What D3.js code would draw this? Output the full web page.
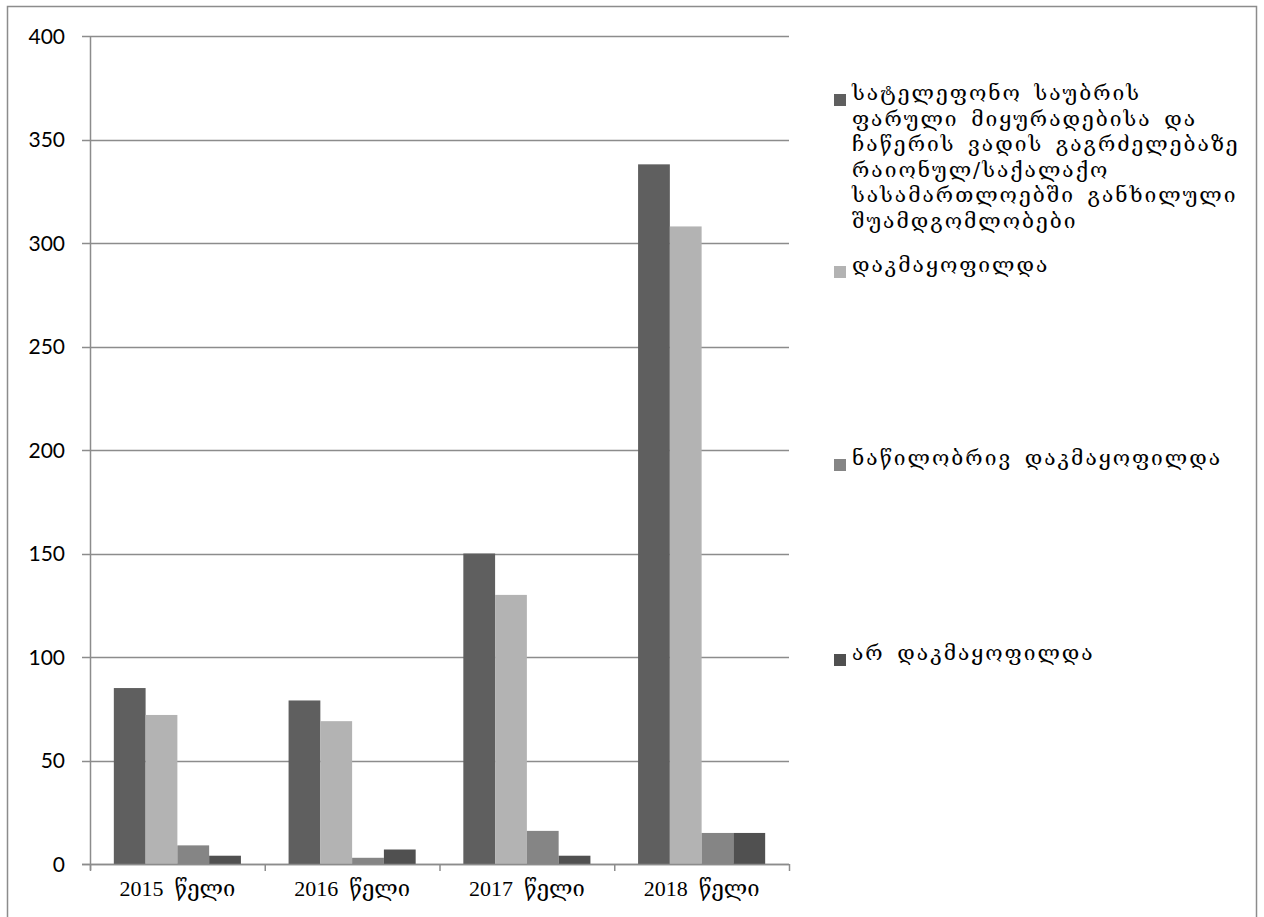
<!DOCTYPE html>
<html>
<head>
<meta charset="utf-8">
<script src="https://cdn.jsdelivr.net/npm/d3@7"></script>
<style>
  html, body { margin: 0; padding: 0; background: #fff; }
  svg { display: block; }
</style>
</head>
<body>
<svg id="chart" width="1264" height="917"></svg>
<script>
// Years on the category axis
const categories = ["2015  წელი", "2016  წელი", "2017  წელი", "2018  წელი"];

// Series names (legend), one line per array entry
const seriesNames = [
  ["სატელეფონო საუბრის", "ფარული მიყურადებისა და", "ჩაწერის ვადის გაგრძელებაზე", "რაიონულ/საქალაქო", "სასამართლოებში განხილული", "შუამდგომლობები"],
  ["დაკმაყოფილდა"],
  ["ნაწილობრივ დაკმაყოფილდა"],
  ["არ დაკმაყოფილდა"]
];

// Values per series, in category order
const totalMotions   = [85, 79, 150, 338];
const granted        = [72, 69, 130, 308];
const partlyGranted  = [9, 3, 16, 15];
const notGranted     = [4, 7, 4, 15];

const yTicks = [0, 50, 100, 150, 200, 250, 300, 350, 400];

const seriesValues = [totalMotions, granted, partlyGranted, notGranted];
const colors = ["#5f5f5f", "#b3b3b3", "#858585", "#505050"];

const svg = d3.select("#chart");

// outer chart frame
svg.append("rect")
  .attr("x", 7.5).attr("y", 6.5)
  .attr("width", 1249).attr("height", 940)
  .attr("fill", "none").attr("stroke", "#8c8c8c").attr("stroke-width", 1.5);

const plot = { left: 90, right: 789, top: 36, bottom: 864 };

const y = d3.scaleLinear().domain([0, 400]).range([plot.bottom, plot.top]);
const x0 = d3.scaleBand().domain(categories).range([plot.left, plot.right]);
// each category holds 4 bars plus a gap of 1.5 bar widths split on both sides
const x1 = d3.scaleBand()
  .domain(d3.range(seriesValues.length))
  .range([0, x0.bandwidth()])
  .paddingInner(0)
  .paddingOuter(0.75);

// gridlines
svg.append("g").selectAll("line")
  .data(yTicks)
  .join("line")
  .attr("x1", plot.left - 8).attr("x2", plot.right)
  .attr("y1", d => Math.round(y(d)) + 0.5).attr("y2", d => Math.round(y(d)) + 0.5)
  .attr("stroke", "#8c8c8c").attr("stroke-width", 1.5);

// y tick labels
svg.append("g").selectAll("text")
  .data(yTicks)
  .join("text")
  .attr("x", 65).attr("y", d => y(d))
  .attr("dy", "0.36em")
  .attr("text-anchor", "end")
  .attr("font-family", "Lato, 'Open Sans', sans-serif")
  .attr("font-size", 21)
  .attr("fill", "#000")
  .text(d => d);

// bars
const groups = svg.append("g").selectAll("g")
  .data(categories)
  .join("g")
  .attr("transform", d => `translate(${x0(d)},0)`);

groups.selectAll("rect")
  .data((d, i) => seriesValues.map((s, k) => ({ k, v: s[i] })))
  .join("rect")
  .attr("x", d => x1(d.k))
  .attr("width", x1.bandwidth())
  .attr("y", d => y(d.v))
  .attr("height", d => y(0) - y(d.v))
  .attr("fill", d => colors[d.k]);

// y axis line
svg.append("line")
  .attr("x1", plot.left + 0.5).attr("x2", plot.left + 0.5)
  .attr("y1", plot.top).attr("y2", plot.bottom + 6)
  .attr("stroke", "#8c8c8c").attr("stroke-width", 1.5);

// x axis line
svg.append("line")
  .attr("x1", plot.left - 8).attr("x2", plot.right)
  .attr("y1", Math.round(y(0)) + 0.5).attr("y2", Math.round(y(0)) + 0.5)
  .attr("stroke", "#8c8c8c").attr("stroke-width", 1.5);

// category boundary ticks
const boundaries = categories.map(c => x0(c)).concat([plot.right]);
svg.append("g").selectAll("line")
  .data(boundaries)
  .join("line")
  .attr("x1", d => d + 0.5).attr("x2", d => d + 0.5)
  .attr("y1", plot.bottom).attr("y2", plot.bottom + 7)
  .attr("stroke", "#8c8c8c").attr("stroke-width", 1.5);

// category labels
svg.append("g").selectAll("text")
  .data(categories)
  .join("text")
  .attr("x", d => x0(d) + x0.bandwidth() / 2)
  .attr("y", 896)
  .attr("text-anchor", "middle")
  .attr("font-family", "'Liberation Serif', 'DejaVu Serif', serif")
  .attr("font-size", 22)
  .attr("fill", "#000")
  .style("white-space", "pre")
  .text(d => d);

// legend
const legendY = [100, 272, 465, 660];
const lineH = 25.5;
const legend = svg.append("g");
seriesNames.forEach((lines, k) => {
  const g = legend.append("g");
  g.append("rect")
    .attr("x", 834).attr("y", legendY[k] - 6)
    .attr("width", 12).attr("height", 12)
    .attr("fill", colors[k]);
  const t = g.append("text")
    .attr("x", 852).attr("y", legendY[k])
    .attr("dy", "0.35em")
    .attr("font-family", "'DejaVu Serif', serif")
    .attr("font-size", 21)
    .attr("letter-spacing", 2)
    .attr("word-spacing", 4)
    .attr("fill", "#000");
  t.selectAll("tspan")
    .data(lines)
    .join("tspan")
    .attr("x", 852)
    .attr("dy", (d, i) => i === 0 ? 0 : lineH)
    .text(d => d);
});
</script>
</body>
</html>
